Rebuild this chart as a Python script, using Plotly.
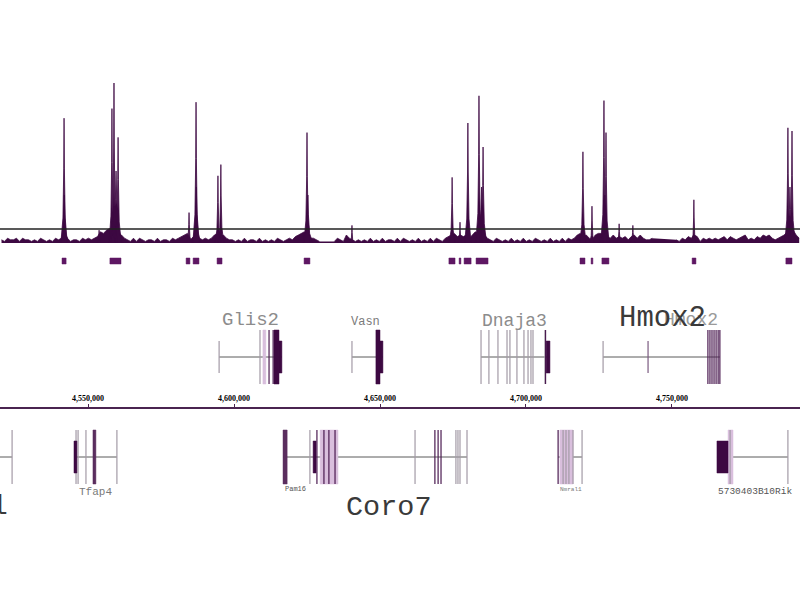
import plotly.graph_objects as go

# ---------------- data ----------------
X_RANGE = [4519860, 4793840]
AXIS_TICKS = [4550000, 4600000, 4650000, 4700000, 4750000]
AXIS_TICK_LABELS = ["4,550,000", "4,600,000", "4,650,000", "4,700,000", "4,750,000"]

# ChIP signal peaks (genomic centre, height in signal units, half width in bp)
PEAK_POS = [4541800, 4558200, 4558900, 4560300, 4559600, 4553800, 4584600, 4587000,
            4594500, 4595500, 4625000, 4625300, 4640400, 4674700, 4677400, 4680100,
            4683900, 4685300, 4684800, 4719500, 4722600, 4726700, 4727400, 4727000,
            4731900, 4736600, 4757500, 4789700, 4791100, 4790400, 4541900, 4587100]
PEAK_HEIGHT = [78, 84, 100, 66, 45, 8, 19, 88,
               42, 49, 69, 30, 11, 41, 13, 75,
               92, 60, 35, 57, 23, 89, 69, 30,
               12, 11, 27, 72, 70, 35, 30, 35]
PEAK_HALFWIDTH = [1100, 1000, 1000, 1100, 2300, 800, 900, 1100,
                  1000, 1000, 1100, 1700, 700, 1000, 700, 1100,
                  1100, 1200, 2300, 1100, 800, 1100, 1100, 2000,
                  800, 900, 800, 1100, 1100, 1800, 1500, 1500]

# background signal, one digit per bin
NOISE_BIN_START = 4520380
NOISE_BIN_SIZE = 1027
NOISE_LEVELS = ("2132231322" "1213212132" "3631221323" "2347689986" "5321313212"
                "2131221323" "4562453232" "3564532212" "1312213121" "2132123245"
                "6753321000" "0132153212" "1213121312" "2131321213" "1213132134"
                "5645453576" "7532132121" "3121312132" "1213121313" "2356453256"
                "6543534342" "4535322300" "0000021324" "3541323232" "3424323452"
                "3243545323" "4576853")

THRESHOLD = 8.75

PEAK_CALL_START = [4541100, 4557500, 4583600, 4586000, 4594200, 4624000, 4673600, 4677100,
                   4678800, 4682900, 4718500, 4722300, 4726000, 4756900, 4789000]
PEAK_CALL_END = [4542500, 4561300, 4584900, 4588000, 4595900, 4626000, 4675700, 4677700,
                 4681200, 4687000, 4720200, 4722900, 4728400, 4758200, 4791100]

# gene models
GENE_NAMES = ["Srl", "Tfap4", "Pam16", "Coro7", "Nmral1", "5730403B10Rik",
              "Glis2", "Vasn", "Dnaja3", "Hmox2"]
GENE_ROW = ["bottom", "bottom", "bottom", "bottom", "bottom", "bottom",
            "top", "top", "top", "top"]
GENE_START = [4519000, 4545200, 4616800, 4616800, 4711000, 4765400,
              4594900, 4640400, 4684600, 4726400]
GENE_END = [4524000, 4559900, 4618200, 4679800, 4719200, 4789700,
            4616400, 4651000, 4708200, 4766400]

TOP_EXONS_DARK = [4612000, 4613400, 4614000, 4706700,
                  4762300, 4763000, 4763700, 4764400, 4765100, 4765800, 4766400]
TOP_EXONS_GRAY = [4608900, 4684600, 4687300, 4690400, 4693500, 4694500, 4696900,
                  4699300, 4700700, 4701700, 4702400, 4706500]
TOP_TICKS_GRAY = [4594900, 4640400, 4726400]
TOP_TICKS_DARK = [4741800]
TOP_BLOCKS_TALL = [(4613700, 4615400), (4648600, 4650000)]
TOP_BLOCKS_SHORT = [(4615400, 4616400), (4650000, 4651000), (4706900, 4708200)]
TOP_LIGHT = [(4609900, 4610900)]

BOTTOM_EXONS_DARK = [4617100, 4628400, 4630800, 4632500, 4634600,
                     4668800, 4669900, 4670900, 4711000]
BOTTOM_EXONS_GRAY = [4524000, 4545900, 4546600, 4549300, 4559900, 4626000,
                     4662000, 4676000, 4676700, 4677400, 4679800,
                     4712700, 4713700, 4714700, 4716100, 4719200, 4769900, 4789700]
BOTTOM_BLOCKS_TALL = [(4616800, 4618200), (4551700, 4552700)]
BOTTOM_BLOCKS_SHORT = [(4545200, 4546200), (4627100, 4628100), (4765400, 4769200)]
BOTTOM_LIGHT = [(4629500, 4635600), (4711600, 4716100), (4769200, 4770900)]

LABEL_TEXT = ["Glis2", "Vasn", "Dnaja3", "Hmox2", "Hmox2",
              "Tfap4", "Pam16", "Nmral1", "5730403B10Rik", "Coro7"]
LABEL_POS = [4605500, 4644900, 4696200, 4756500, 4746600,
             4552400, 4620900, 4715400, 4778400, 4653100]
LEFT_CUT_LABEL = "Srl"
LEFT_CUT_LABEL_END = 4523300

# ---------------- styles / layout ----------------
W, H = 800, 600
SIG = "#3d0942"
CALL = "#5e1763"
DARK = "#4a1a50"
GRAY = "#a39aa6"
LIGHT = "#d9bfdd"
LINE = "#5a5a5a"
ROW_Y = {"top": 357, "bottom": 457}
TALL, SHORT = 27, 16
CALL_ROW = (258, 264)
AXIS_PX = 408
SIG_TOP_PX, SIG_BASE_PX = 83, 243

fig = go.Figure()

# background signal
nx, ny = [], []
for i, c in enumerate(NOISE_LEVELS):
    nx.append(NOISE_BIN_START + i * NOISE_BIN_SIZE)
    ny.append(int(c) if c != "0" else None)
fig.add_trace(go.Scatter(x=nx, y=ny, mode="lines", fill="tozeroy", connectgaps=False,
                         line=dict(color=SIG, width=0.8), fillcolor=SIG,
                         xaxis="x", yaxis="y", hoverinfo="skip"))

# peaks
px_, py_ = [], []
for c, h, w in zip(PEAK_POS, PEAK_HEIGHT, PEAK_HALFWIDTH):
    px_ += [c - w, c - 0.35 * w, c - 0.1 * w, c, c + 0.1 * w, c + 0.35 * w, c + w, None]
    py_ += [0, 0.2 * h, 0.6 * h, h, 0.6 * h, 0.2 * h, 0, None]
fig.add_trace(go.Scatter(x=px_, y=py_, mode="lines", fill="toself", fillcolor=SIG,
                         line=dict(color=SIG, width=0.8), xaxis="x", yaxis="y",
                         hoverinfo="skip"))

# threshold line
fig.add_trace(go.Scatter(x=X_RANGE, y=[THRESHOLD, THRESHOLD], mode="lines",
                         line=dict(color="#222222", width=1.5), xaxis="x", yaxis="y",
                         hoverinfo="skip"))


def rects(spans, y0, y1):
    xs, ys = [], []
    for s, e in spans:
        xs += [s, e, e, s, s, None]
        ys += [y0, y0, y1, y1, y0, None]
    return xs, ys


def add_rects(spans, y0, y1, color):
    xs, ys = rects(spans, y0, y1)
    fig.add_trace(go.Scatter(x=xs, y=ys, mode="lines", fill="toself", fillcolor=color,
                             line=dict(color=color, width=0.5), xaxis="x", yaxis="y2",
                             hoverinfo="skip"))


def add_vlines(xs_list, yc, half, color, width=1.2):
    xs, ys = [], []
    for x in xs_list:
        xs += [x, x, None]
        ys += [yc - half, yc + half, None]
    fig.add_trace(go.Scatter(x=xs, y=ys, mode="lines", line=dict(color=color, width=width),
                             xaxis="x", yaxis="y2", hoverinfo="skip"))


# peak calls
add_rects(list(zip(PEAK_CALL_START, PEAK_CALL_END)), CALL_ROW[0], CALL_ROW[1], CALL)

# gene backbones
gx, gy = [], []
for s, e, r in zip(GENE_START, GENE_END, GENE_ROW):
    gx += [s, e, None]
    gy += [ROW_Y[r], ROW_Y[r], None]
fig.add_trace(go.Scatter(x=gx, y=gy, mode="lines", line=dict(color=LINE, width=1),
                         xaxis="x", yaxis="y2", hoverinfo="skip"))

# top strand
yt = ROW_Y["top"]
add_rects(TOP_LIGHT, yt - TALL, yt + TALL, LIGHT)
add_vlines(TOP_EXONS_GRAY, yt, TALL, GRAY)
add_vlines(TOP_TICKS_GRAY, yt, SHORT, GRAY)
add_vlines(TOP_TICKS_DARK, yt, SHORT, "#7a5a80")
add_vlines(TOP_EXONS_DARK, yt, TALL, DARK)
add_rects(TOP_BLOCKS_TALL, yt - TALL, yt + TALL, SIG)
add_rects(TOP_BLOCKS_SHORT, yt - SHORT, yt + SHORT, SIG)

# bottom strand
yb = ROW_Y["bottom"]
add_rects(BOTTOM_LIGHT, yb - TALL, yb + TALL, LIGHT)
add_vlines(BOTTOM_EXONS_GRAY, yb, TALL, GRAY)
add_vlines(BOTTOM_EXONS_DARK, yb, TALL, DARK)
add_rects(BOTTOM_BLOCKS_TALL, yb - TALL, yb + TALL, "#5a2d5e")
add_rects(BOTTOM_BLOCKS_SHORT, yb - SHORT, yb + SHORT, SIG)

# labels
LABEL_STYLE = [  # (y px, size, colour)
    (320, 19, "#8c8c8c"),
    (322, 12, "#7a7a7a"),
    (321, 18, "#8c8c8c"),
    (320, 18, "#9a9a9a"),
    (318, 29, "#3a3a3a"),
    (492, 11, "#7a7a7a"),
    (489, 7, "#555555"),
    (489, 6, "#777777"),
    (491, 9.5, "#555555"),
    (507, 28.5, "#3a3a3a"),
]
ann = []
for t, x, (y, s, col) in zip(LABEL_TEXT, LABEL_POS, LABEL_STYLE):
    ann.append(dict(x=x, y=y, xref="x", yref="y2", text=t, showarrow=False,
                    xanchor="center", yanchor="middle",
                    font=dict(family="Liberation Mono", size=s, color=col)))
ann.append(dict(x=LEFT_CUT_LABEL_END, y=507, xref="x", yref="y2", text=LEFT_CUT_LABEL,
                showarrow=False, xanchor="right", yanchor="middle",
                font=dict(family="Liberation Mono", size=27, color="#3a3a3a")))

fig.update_layout(
    width=W, height=H, autosize=False,
    margin=dict(l=0, r=0, t=0, b=0, pad=0),
    paper_bgcolor="white", plot_bgcolor="rgba(0,0,0,0)",
    showlegend=False,
    annotations=ann,
    xaxis=dict(range=X_RANGE, domain=[0, 1], anchor="free", position=1 - AXIS_PX / H,
               side="top", showline=True, linecolor="#4a2450", linewidth=2,
               tickvals=AXIS_TICKS, ticktext=AXIS_TICK_LABELS, ticks="outside",
               ticklen=3, tickcolor="#4a2450", showgrid=False, zeroline=False,
               tickfont=dict(family="Liberation Serif", size=8, color="#000000",
                             weight="bold")),
    yaxis=dict(domain=[1 - SIG_BASE_PX / H, 1 - SIG_TOP_PX / H], range=[0, 100],
               visible=False, anchor="free", position=0),
    yaxis2=dict(domain=[0, 1], range=[H, 0], visible=False, anchor="free", position=0),
)

fig.write_html("out.html", config={"displayModeBar": False},
               post_script="document.body.style.margin='0px';document.body.style.overflow='hidden';")
